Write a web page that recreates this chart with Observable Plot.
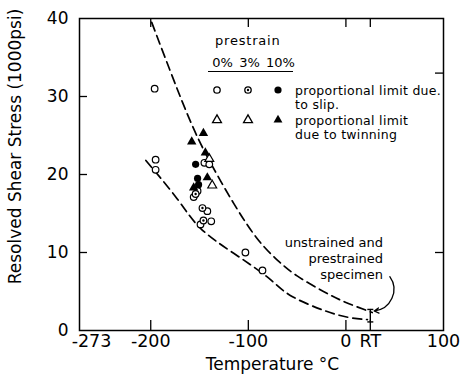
<!DOCTYPE html>
<html><head><meta charset="utf-8">
<script src="https://cdn.jsdelivr.net/npm/d3@7"></script>
<script src="https://cdn.jsdelivr.net/npm/@observablehq/plot@0.6"></script>
<style>body{margin:0;background:#fff}#chart{width:461px;height:381px}</style>
</head><body><div id="chart"></div>
<script>
// ---- axis ticks ----
const RT = 25;
const xTickValues = [-200, -100, 0, RT, 100];
const xTickLabels = ["-200", "-100", "0", "RT", "100"];
const xAbsZero = [-273];
const xInnerTicks = [-200, -100, 0, RT];
const yTickValues = [0, 10, 20, 30, 40];
const yInnerTicks = [10, 20, 30];
const yRightTicks = [10, 33];

// ---- data: temperature (°C) and resolved shear stress (1000 psi) ----
const slip0T = [-196, -195, -195, -145, -140, -152, -156, -142, -138, -149, -103, -85.5];
const slip0V = [31.0, 21.9, 20.6, 21.5, 21.3, 17.9, 17.1, 15.3, 14.0, 13.6, 10.0, 7.7];
const slip3T = [-147, -146, -154];
const slip3V = [15.7, 14.1, 17.5];
const slip10T = [-154, -152, -151];
const slip10V = [21.3, 19.5, 18.7];
const twin0T = [-137, -140];
const twin0V = [18.6, 22.0];
const twin10T = [-158, -146, -144, -142, -156];
const twin10V = [24.2, 25.3, 22.8, 19.6, 18.3];

const upperT = [-199, -164, -140, -115, -91, -70, -50, -23, 0, 27];
const upperV = [39.5, 28.2, 21.8, 16.3, 11.8, 9.0, 7.0, 5.0, 3.6, 2.3];
const lowerT = [-205, -173, -149, -115, -80, -57, -23, 2, 22];
const lowerV = [21.8, 16.9, 13.1, 9.9, 6.8, 4.5, 2.6, 1.7, 1.4];

const rtBarLow = 1.1, rtBarHigh = 2.7;

const annotText = "unstrained and\nprestrained\nspecimen";
const annotT = 38, annotV = 9.3;
const arrowFrom = {t: 45, v: 6.9};
const arrowTo = {t: 29, v: 2.5};

const legendTitle = "prestrain";
const legendCols = ["0%", "3%", "10%"];
const legendRows = [["proportional limit due.", "to slip."], ["proportional limit", "due to twinning"]];

const xLabel = "Temperature °C";
const yLabel = "Resolved Shear Stress (1000psi)";

// ---- build ----
const FONT = "'DejaVu Sans', sans-serif";
const W = 461, H = 381, mL = 79, mR = 18, mT = 18, mB = 51;
const fw = W - mL - mR, fh = H - mT - mB;
const zip = (ts, vs) => ts.map((t, i) => ({t, v: vs[i]}));

const hLine = {draw(ctx, size) { const r = Math.sqrt(size / Math.PI); ctx.moveTo(-r, 0); ctx.lineTo(r, 0); }};

function legend() {
  const g = d3.create("svg:g").attr("font-family", FONT).attr("fill", "black").attr("text-anchor", "start");
  const cols = [217, 248, 278];
  const headX = [222.5, 249.5, 280.5];
  g.append("text").attr("x", 215).attr("y", 45).attr("font-size", 13).attr("letter-spacing", 0.8).text(legendTitle);
  legendCols.forEach((c, i) => g.append("text").attr("x", headX[i]).attr("y", 67).attr("text-anchor", "middle").attr("font-size", 13).text(c));
  g.append("line").attr("x1", 208).attr("x2", 293).attr("y1", 71.5).attr("y2", 71.5).attr("stroke", "black").attr("stroke-width", 1.2);
  const rowY = [90, 120];
  g.append("circle").attr("cx", cols[0]).attr("cy", rowY[0]).attr("r", 3.2).attr("fill", "white").attr("stroke", "black").attr("stroke-width", 1.3);
  g.append("circle").attr("cx", cols[1]).attr("cy", rowY[0]).attr("r", 3.2).attr("fill", "white").attr("stroke", "black").attr("stroke-width", 1.3);
  g.append("circle").attr("cx", cols[1]).attr("cy", rowY[0]).attr("r", 1.2).attr("fill", "black");
  g.append("circle").attr("cx", cols[2]).attr("cy", rowY[0]).attr("r", 3.6).attr("fill", "black");
  const tri = d3.symbol(d3.symbolTriangle, Math.PI * 3.3 * 3.3);
  [0, 1].forEach(i => g.append("path").attr("d", tri()).attr("transform", `translate(${cols[i]},${rowY[1]})`).attr("fill", "white").attr("stroke", "black").attr("stroke-width", 1.3));
  g.append("path").attr("d", tri()).attr("transform", `translate(${cols[2]},${rowY[1]})`).attr("fill", "black");
  legendRows.forEach((lines, r) => lines.forEach((s, j) =>
    g.append("text").attr("x", 295).attr("y", rowY[r] + 4.5 + j * 14.5).attr("font-size", 12.5).attr("letter-spacing", 0.3).text(s)));
  return g.node();
}

const chart = Plot.plot({
  width: W, height: H,
  marginLeft: mL, marginRight: mR, marginTop: mT, marginBottom: mB,
  style: {fontFamily: FONT, background: "white", color: "black", overflow: "visible"},
  x: {domain: [-273, 100]},
  y: {domain: [0, 40]},
  marks: [
    Plot.axisX({ticks: xTickValues, tickFormat: d => xTickLabels[xTickValues.indexOf(d)], tickSize: 0, tickPadding: 4, fontSize: 17.5, label: null}),
    Plot.axisX({ticks: xAbsZero, tickFormat: d => String(d), tickSize: 0, tickPadding: 4, fontSize: 17.5, dx: 12, label: null}),
    Plot.axisY({ticks: yTickValues, tickSize: 0, tickPadding: 11, fontSize: 17, label: null}),
    Plot.tickX(xInnerTicks, {x: d => d, insetTop: fh - 10, strokeWidth: 1.3}),
    Plot.tickX(xInnerTicks, {x: d => d, insetBottom: fh - 9, strokeWidth: 1.3}),
    Plot.tickY(yInnerTicks, {y: d => d, insetRight: fw - 8, strokeWidth: 1.3}),
    Plot.tickY(yRightTicks, {y: d => d, insetLeft: fw - 8, strokeWidth: 1.3}),
    Plot.frame({stroke: "black", strokeWidth: 1.5}),
    Plot.line(zip(upperT, upperV), {x: "t", y: "v", curve: "natural", stroke: "black", strokeWidth: 1.7, strokeDasharray: "9,5"}),
    Plot.line(zip(lowerT, lowerV), {x: "t", y: "v", curve: "natural", stroke: "black", strokeWidth: 1.7, strokeDasharray: "9,5"}),
    Plot.ruleX([RT], {y1: rtBarLow, y2: rtBarHigh, strokeWidth: 1.4}),
    Plot.dot([rtBarLow, rtBarHigh], {x: () => RT, y: d => d, symbol: hLine, r: 3, stroke: "black", strokeWidth: 1.4}),
    Plot.dot(zip(slip0T, slip0V), {x: "t", y: "v", r: 3.3, fill: "white", stroke: "black", strokeWidth: 1.2}),
    Plot.dot(zip(slip3T, slip3V), {x: "t", y: "v", r: 3.3, fill: "white", stroke: "black", strokeWidth: 1.2}),
    Plot.dot(zip(slip3T, slip3V), {x: "t", y: "v", r: 1.2, fill: "black"}),
    Plot.dot(zip(slip10T, slip10V), {x: "t", y: "v", r: 3.6, fill: "black"}),
    Plot.dot(zip(twin0T, twin0V), {x: "t", y: "v", symbol: "triangle", r: 3.3, fill: "white", stroke: "black", strokeWidth: 1.2}),
    Plot.dot(zip(twin10T, twin10V), {x: "t", y: "v", symbol: "triangle", r: 3.5, fill: "black"}),
    Plot.text([annotText], {x: () => annotT, y: () => annotV, textAnchor: "end", lineHeight: 1.23, fontSize: 13}),
    Plot.arrow([0], {x1: () => arrowFrom.t, y1: () => arrowFrom.v, x2: () => arrowTo.t, y2: () => arrowTo.v, bend: 60, headLength: 6, strokeWidth: 1.3, stroke: "black"}),
    Plot.text([xLabel], {frameAnchor: "bottom", lineAnchor: "middle", dx: 11, dy: 34, fontSize: 17}),
    Plot.text([yLabel], {frameAnchor: "left", textAnchor: "middle", lineAnchor: "middle", dx: -64, dy: -28, rotate: -90, fontSize: 17}),
    legend
  ]
});
document.getElementById("chart").appendChild(chart);
</script>
</body></html>
